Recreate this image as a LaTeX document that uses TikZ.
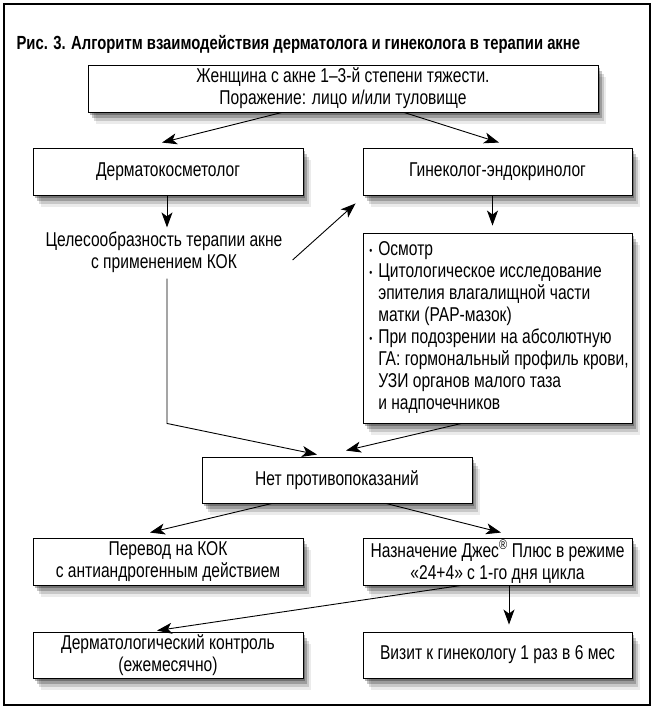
\documentclass[tikz,border=0pt]{standalone}
\usepackage{fontspec}
\setmainfont[FakeStretch=0.78]{Liberation Sans}
\usetikzlibrary{arrows.meta,shadows,positioning,calc}

\newcommand{\bul}{\makebox[9pt][l]{\fontsize{11}{11}\selectfont\raisebox{1pt}{•}}}
\newcommand{\ind}{\hspace*{9pt}}

\begin{document}
\begin{tikzpicture}[x=1pt, y=-1pt,
      txt/.style = {font=\fontsize{20}{22}\selectfont},
      box/.style = {txt, draw, line width=0.9pt, fill=white, align=center,
         inner sep=0pt, minimum height=47pt,
         drop shadow={shadow xshift=2pt, shadow yshift=-3pt, fill=black, opacity=0.28},
         drop shadow={shadow xshift=4pt, shadow yshift=-6pt, fill=black, opacity=0.22},
         drop shadow={shadow xshift=6pt, shadow yshift=-9pt, fill=black, opacity=0.15},
         drop shadow={shadow xshift=8pt, shadow yshift=-12pt, fill=black, opacity=0.08}},
      wide/.style = {box, minimum width=270pt},
      link/.style = {line width=0.9pt, -{Stealth[length=15pt,width=11pt,inset=4pt]}}
]

   \useasboundingbox (0,0) rectangle (654,709);
   \draw[line width=2.4pt] (4,4) rectangle (650,705);

   \node[anchor=west, font=\bfseries\fontsize{19}{22}\selectfont] (title) at (13,44)
      {Рис. 3. Алгоритм взаимодействия дерматолога и гинеколога в терапии акне};

   % first level
   \node[box, minimum width=510pt] (woman) at (343,88.5)
      {Женщина с акне 1–3-й степени тяжести.\\Поражение: лицо и/или туловище};

   \node[wide] (derm) at (168,171.5) {Дерматокосметолог};
   \node[wide, minimum width=269pt] (gyn) at (497.5,171.5) {Гинеколог-эндокринолог};

   % aim of therapy
   \node[txt, align=center, inner sep=0pt] (aim) at (164,252)
      {Целесообразность терапии акне\\с применением КОК};

   % examination
   \node[box, minimum width=269pt, minimum height=190pt, align=left] (exam) at (497.5,328)
      {\hspace*{3pt}\bul Осмотр\\
       \hspace*{3pt}\bul Цитологическое исследование\\
       \hspace*{3pt}\ind эпителия влагалищной части\\
       \hspace*{3pt}\ind матки (PAP-мазок)\\
       \hspace*{3pt}\bul При подозрении на абсолютную\\
       \hspace*{3pt}\ind ГА: гормональный профиль крови,\\
       \hspace*{3pt}\ind УЗИ органов малого таза\\
       \hspace*{3pt}\ind и надпочечников\hspace*{60pt}};

   \node[wide, minimum height=46pt] (noci) at (337,480) {Нет противопоказаний};

   % therapy
   \node[wide] (switch) at (168,561.5) {Перевод на КОК\\с антиандрогенным действием};
   \node[wide, minimum width=269pt] (jess) at (497.5,561.5)
      {Назначение Джес\textsuperscript{®} Плюс в режиме\\«24+4» с 1-го дня цикла};

   % follow-up
   \node[wide, minimum height=46pt] (control) at (168,655)
      {Дерматологический контроль\\(ежемесячно)};
   \node[wide, minimum width=269pt, minimum height=46pt] (visit) at (497.5,655)
      {Визит к гинекологу 1 раз в 6 мес};

   % arrows
   \draw[link] ([xshift=-61pt]woman.south) -- ([xshift=-6pt,yshift=5pt]derm.north);
   \draw[link] ([xshift=61pt]woman.south) -- ([xshift=1.5pt,yshift=5pt]gyn.north);
   \draw[link] ([xshift=-1pt]derm.south) -- ([xshift=3pt,yshift=4pt]aim.north);
   \draw[link] ([xshift=10pt,yshift=-8pt]aim.east) -- ([xshift=-7pt,yshift=-8pt]gyn.south west);
   \draw[link] ([xshift=-5pt]gyn.south) -- ([xshift=-5pt,yshift=7pt]exam.north);
   \draw[link] ([xshift=3pt,yshift=-6pt]aim.south) -- ([xshift=3pt]aim.south |- exam.south)
      -- ([xshift=-20pt,yshift=2pt]noci.north);
   \draw[link] ([xshift=-36pt]exam.south) -- ([xshift=9pt,yshift=6pt]noci.north);
   \draw[link] ([xshift=-65pt]noci.south) -- ([xshift=-18pt,yshift=5pt]switch.north);
   \draw[link] ([xshift=49pt]noci.south) -- ([xshift=3.5pt,yshift=5pt]jess.north);
   \draw[link] ([xshift=-36.5pt]jess.south) -- ([xshift=-11pt,yshift=1pt]control.north);
   \draw[link] ([xshift=11.5pt]jess.south) -- ([xshift=11.5pt,yshift=7pt]visit.north);

\end{tikzpicture}
\end{document}
